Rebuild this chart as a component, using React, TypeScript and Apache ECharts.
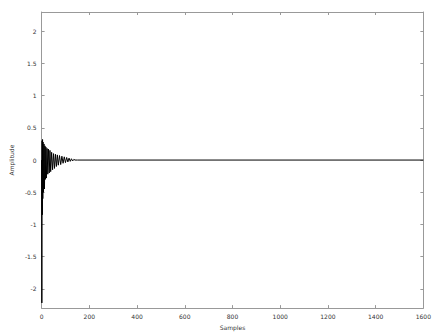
import React, { useEffect, useRef } from "react";
import * as echarts from "echarts";

const sampleX = [0, 1, 2, 3, 4, 5, 6, 8, 10, 12, 14, 16, 18, 20, 23, 26, 29, 32, 35, 38, 42, 46, 50, 54, 58, 62, 66, 70, 75, 80, 85, 90, 95, 100, 105, 110, 115, 120, 125, 130, 135, 140, 150, 1600];
const amplitude = [0, -2.22, 0.3, -0.85, 0.32, -0.6, 0.28, -0.5, 0.25, -0.45, 0.22, -0.3, 0.2, -0.28, 0.18, -0.22, 0.17, -0.2, 0.15, -0.18, 0.12, -0.15, 0.1, -0.13, 0.09, -0.1, 0.08, -0.08, 0.07, -0.07, 0.06, -0.05, 0.05, -0.04, 0.04, -0.03, 0.03, -0.02, 0.02, -0.015, 0.01, 0, 0, 0];
const yTicks = [-2, -1.5, -1, -0.5, 0, 0.5, 1, 1.5, 2];
const xTicks = [0, 200, 400, 600, 800, 1000, 1200, 1400, 1600];

export default function App() {
  const ref = useRef<HTMLDivElement>(null);
  useEffect(() => {
    const chart = echarts.init(ref.current!, null, { renderer: "svg" });
    const lineColor = "#999";
    const font = { fontFamily: "DejaVu Sans", fontSize: 6, color: "#333" };
    const fmt = (v: number) => String(v);
    chart.setOption({
      animation: false,
      grid: { left: 40, right: 4, top: 12, bottom: 21 },
      xAxis: [
        {
          type: "value", min: 0, max: 1600, interval: 200,
          name: "Samples", nameLocation: "middle", nameGap: 14,
          nameTextStyle: { ...font },
          axisLine: { onZero: false, lineStyle: { color: lineColor } },
          axisTick: { inside: true, length: 3, lineStyle: { color: lineColor } },
          axisLabel: { ...font, margin: 5, formatter: fmt },
          splitLine: { show: false },
        },
        {
          type: "value", min: 0, max: 1600, interval: 200, position: "top",
          axisLine: { onZero: false, lineStyle: { color: lineColor } },
          axisTick: { inside: true, length: 3, lineStyle: { color: lineColor } },
          axisLabel: { show: false },
          splitLine: { show: false },
        },
      ],
      yAxis: [
        {
          type: "value", min: -2.3, max: 2.3,
          name: "Amplitude", nameLocation: "middle", nameGap: 25,
          nameTextStyle: { ...font },
          axisLine: { show: true, onZero: false, lineStyle: { color: lineColor } },
          axisTick: { show: true, inside: true, length: 3, lineStyle: { color: lineColor }, customValues: yTicks },
          axisLabel: { ...font, margin: 5, customValues: yTicks, formatter: fmt },
          splitLine: { show: false },
        },
        {
          type: "value", min: -2.3, max: 2.3, position: "right",
          axisLine: { show: true, onZero: false, lineStyle: { color: lineColor } },
          axisTick: { show: true, inside: true, length: 3, lineStyle: { color: lineColor }, customValues: yTicks },
          axisLabel: { show: false },
          splitLine: { show: false },
        },
      ],
      series: [
        {
          type: "line",
          data: sampleX.map((x, i) => [x, amplitude[i]]),
          showSymbol: false,
          lineStyle: { color: "#000", width: 1 },
          xAxisIndex: 0, yAxisIndex: 0,
        },
      ],
    });
    return () => chart.dispose();
  }, []);
  return <div ref={ref} style={{ width: 434, height: 335, position: "absolute", left: 0, top: 0, background: "#fff" }} />;
}
